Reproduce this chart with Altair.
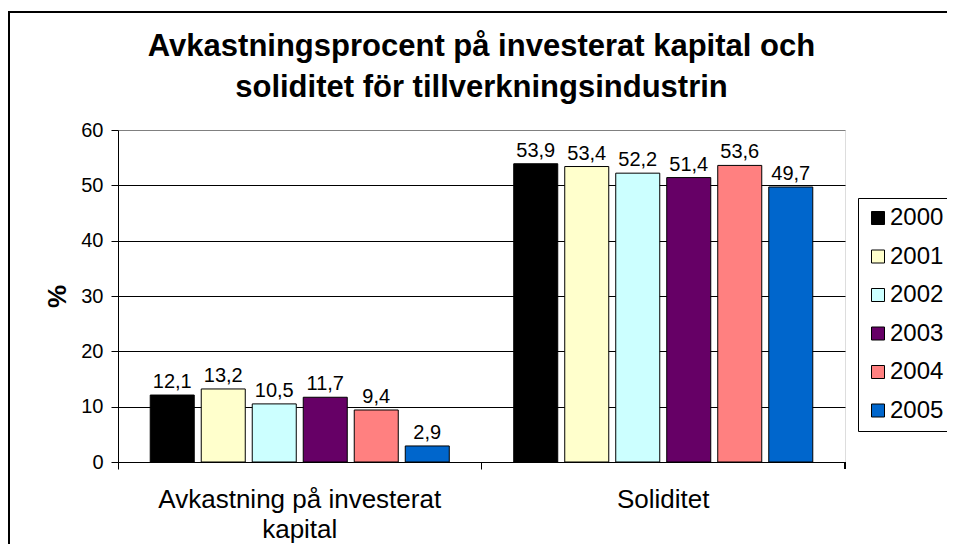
import altair as alt
import pandas as pd

categories = ["Avkastning på investerat kapital", "Soliditet"]
years = ["2000", "2001", "2002", "2003", "2004", "2005"]
avkastning = [12.1, 13.2, 10.5, 11.7, 9.4, 2.9]
soliditet = [53.9, 53.4, 52.2, 51.4, 53.6, 49.7]
colors = ["#000000", "#FFFFCC", "#CCFFFF", "#660066", "#FF8080", "#0066CC"]
y_ticks = [0, 10, 20, 30, 40, 50, 60]

rows = []
for cat, vals in zip(categories, [avkastning, soliditet]):
    for yr, v in zip(years, vals):
        rows.append({"kategori": cat, "år": yr, "värde": v})
df = pd.DataFrame(rows)

FONT = "Liberation Sans"

x_enc = alt.X(
    "kategori:N",
    sort=categories,
    scale=alt.Scale(paddingInner=0, paddingOuter=0),
    axis=alt.Axis(
        title=None,
        labelAngle=0,
        bandPosition=0,
        labelFontSize=26,
        labelFont=FONT,
        labelColor="black",
        labelPadding=17,
        labelLineHeight=30,
        labelBaseline="top",
        labelLimit=600,
        labelExpr="datum.value == 'Avkastning på investerat kapital' ? ['Avkastning på investerat', 'kapital'] : datum.value",
        tickSize=7,
        tickColor="black",
        domainColor="black",
        grid=False,
    ),
)
xoff_enc = alt.XOffset(
    "år:N",
    sort=years,
    scale=alt.Scale(paddingInner=0.137, paddingOuter=0.632),
)
y_enc = alt.Y(
    "värde:Q",
    scale=alt.Scale(domain=[0, 60], nice=False),
    axis=alt.Axis(
        title="%",
        values=y_ticks,
        titleFont=FONT,
        titleFontSize=26,
        titleFontWeight="bold",
        titleColor="black",
        titleAngle=-90,
        titleX=-61,
        titleY=166,
        titleAlign="center",
        titleBaseline="middle",
        labelFont=FONT,
        labelFontSize=20,
        labelColor="black",
        labelPadding=8,
        tickSize=7,
        tickColor="black",
        domainColor="black",
        grid=True,
        gridColor=alt.condition("datum.value == 60", alt.value("#808080"), alt.value("black")),
        gridOpacity=1,
        gridWidth=1,
    ),
)

bars = alt.Chart(df).mark_bar(stroke="black", strokeWidth=1, opacity=1).encode(
    x=x_enc,
    xOffset=xoff_enc,
    y=y_enc,
    color=alt.Color(
        "år:N",
        sort=years,
        scale=alt.Scale(domain=years, range=colors),
        legend=alt.Legend(
            title=None,
            orient="none",
            legendX=740,
            legendY=68,
            symbolType="square",
            symbolSize=169,
            symbolStrokeColor="black",
            symbolStrokeWidth=1,
            symbolOpacity=1,
            labelFont=FONT,
            labelFontSize=24,
            labelColor="black",
            labelOffset=0,
            rowPadding=14.5,
            padding=8,
            strokeColor="black",
            fillColor="white",
        ),
    ),
)

labels = alt.Chart(df).transform_calculate(
    etikett="replace(format(datum['värde'], '.1f'), '.', ',')"
).mark_text(
    font=FONT, fontSize=20, color="black", baseline="alphabetic", dy=-7
).encode(
    x=alt.X("kategori:N", sort=categories),
    xOffset=alt.XOffset("år:N", sort=years),
    y=alt.Y("värde:Q"),
    text="etikett:N",
)

end_tick = alt.Chart(df).mark_rule(color="black", strokeWidth=1, clip=False).encode(
    x=alt.value(727), y=alt.value(332), y2=alt.value(339)
)

border = alt.Chart(df).mark_rect(
    fill=None, stroke="black", strokeWidth=1.5, clip=False
).encode(
    x=alt.value(-109), x2=alt.value(850), y=alt.value(-118), y2=alt.value(440)
)

chart = alt.layer(bars, labels, end_tick, border).properties(
    width=727,
    height=332,
    title=alt.TitleParams(
        text=["Avkastningsprocent på investerat kapital och", "soliditet för tillverkningsindustrin"],
        font=FONT,
        fontSize=31,
        fontWeight="bold",
        color="black",
        anchor="middle",
        frame="group",
        lineHeight=41,
        offset=-93,
    ),
    autosize=alt.AutoSizeParams(type="none"),
    padding={"left": 110, "top": 122, "right": 102, "bottom": 82},
).configure_view(stroke="#808080", strokeWidth=1).configure(background="white")

chart.save("out.html", embed_options={"renderer": "svg", "actions": False})
